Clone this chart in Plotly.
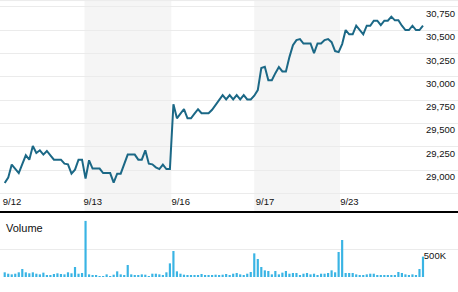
import plotly.graph_objects as go

# ---- data ----
dates = ["9/12", "9/13", "9/16", "9/17", "9/23"]
day_starts = [0, 23, 48, 72, 96]

price = [
    # 9/12
    28861, 28919, 29059, 29010, 28968, 29064, 29159, 29112, 29259, 29183, 29212, 29166,
    29205, 29159, 29112, 29112, 29112, 29069, 29062, 28962, 29005, 29112, 29112,
    # 9/13
    28908, 29105, 29016, 29016, 29016, 28968, 28968, 28968, 28865, 28962, 28962, 29062,
    29166, 29166, 29166, 29112, 29112, 29212, 29069, 29062, 29030, 29011, 29059, 29011, 29011,
    # 9/16
    29707, 29556, 29605, 29653, 29556, 29556, 29605, 29653, 29610, 29610, 29610, 29647,
    29697, 29750, 29804, 29758, 29804, 29758, 29804, 29758, 29804, 29758, 29758, 29798,
    # 9/17
    29858, 30095, 30108, 29965, 29965, 30040, 30105, 30059, 30059, 30212, 30341, 30395,
    30406, 30358, 30358, 30358, 30255, 30358, 30358, 30395, 30406, 30373, 30277, 30266,
    # 9/23
    30352, 30503, 30457, 30457, 30549, 30503, 30457, 30549, 30549, 30603, 30603, 30556,
    30603, 30603, 30646, 30607, 30607, 30549, 30503, 30503, 30549, 30503, 30503, 30549,
]

volume_k = [
    # 9/12
    85, 60, 48, 60, 85, 145, 85, 67, 85, 60, 48, 79, 36, 36, 55, 67, 55, 48, 85, 67, 182, 60, 73,
    # 9/13
    1020, 48, 36, 30, 12, 12, 48, 18, 42, 103, 48, 36, 218, 48, 30, 36, 48, 42, 18, 60, 60, 48, 30, 85, 248,
    # 9/16
    473, 103, 60, 42, 30, 30, 30, 30, 55, 30, 30, 36, 42, 36, 42, 55, 36, 60, 73, 48, 36, 60, 91, 430,
    # 9/17
    327, 182, 121, 109, 48, 109, 48, 79, 109, 60, 73, 73, 36, 60, 73, 48, 60, 36, 60, 60, 73, 121, 85, 455,
    # 9/23
    673, 73, 73, 73, 48, 36, 36, 48, 60, 60, 36, 36, 36, 24, 36, 36, 91, 73, 48, 36, 48, 36, 145, 370,
]

price_ticks = [28750, 29000, 29250, 29500, 29750, 30000, 30250, 30500, 30750]
price_tick_labels = ["", "29,000", "29,250", "29,500", "29,750", "30,000", "30,250", "30,500", "30,750"]
volume_ticks = [0, 500000]
volume_tick_labels = ["", "500K"]

# ---- figure ----
x = list(range(len(price)))
volume = [v * 1000 for v in volume_k]

FONT = "Liberation Sans, Arial, sans-serif"
LINE = "#1b6886"
BAR = "#3ab4e4"
GRID = "#ebebeb"
BAND = "#f5f5f5"

fig = go.Figure()
fig.add_trace(go.Scatter(x=x, y=price, mode="lines",
                         line=dict(color=LINE, width=2), xaxis="x", yaxis="y",
                         hoverinfo="x+y"))
fig.add_trace(go.Bar(x=x, y=volume, marker=dict(color=BAR, line=dict(width=0)),
                     width=0.62, xaxis="x2", yaxis="y2"))

shapes = []
# shaded alternate trading days (9/13 and 9/17)
for s, e in [(day_starts[1] - 0.3, day_starts[2] - 0.6), (day_starts[3] - 1.0, day_starts[4] - 0.6)]:
    shapes.append(dict(type="rect", xref="x", yref="y domain", x0=s, x1=e, y0=0, y1=1,
                       fillcolor=BAND, line=dict(width=0), layer="below"))
# top border
shapes.append(dict(type="line", xref="paper", yref="paper", x0=0, x1=1, y0=0.998, y1=0.998,
                   line=dict(color=GRID, width=1), layer="below"))

H = 292.0
fig.update_layout(
    width=458, height=292,
    margin=dict(l=0, r=0, t=0, b=0),
    paper_bgcolor="white", plot_bgcolor="white",
    showlegend=False,
    font=dict(family=FONT, size=10, color="#111"),
    shapes=shapes,
    xaxis=dict(domain=[0, 1], range=[-1.34, 128.96], anchor="y",
               tickmode="array", tickvals=day_starts, ticktext=dates,
               ticklabelposition="inside right", ticks="", ticklabelshift=-3,
               showgrid=False, zeroline=False,
               showline=True, linecolor="#000", linewidth=2,
               tickfont=dict(size=9.5, color="#111")),
    yaxis=dict(domain=[1 - 211 / H, 1], range=[28561, 30825], side="right",
               tickmode="array", tickvals=price_ticks, ticktext=price_tick_labels,
               ticklabelposition="inside bottom", ticks="",
               showgrid=True, gridcolor=GRID, gridwidth=1, zeroline=False, showline=False,
               tickfont=dict(size=9.5, color="#111")),
    xaxis2=dict(domain=[0, 1], matches="x", anchor="y2", showticklabels=False,
                showgrid=False, zeroline=False, showline=False, ticks=""),
    yaxis2=dict(domain=[15 / H, 79 / H], range=[0, 1163636], side="right",
                tickmode="array", tickvals=volume_ticks, ticktext=volume_tick_labels,
                ticklabelposition="inside bottom", ticks="", ticklabelstandoff=9,
                showgrid=True, gridcolor=GRID, gridwidth=1, zeroline=False, showline=False,
                tickfont=dict(size=9.5, color="#111")),
    annotations=[dict(text="Volume", xref="paper", yref="paper", x=4 / 458, y=1 - 228 / H,
                      xanchor="left", yanchor="middle", showarrow=False,
                      font=dict(size=11, color="#111"))],
)

fig.write_html("out.html")
